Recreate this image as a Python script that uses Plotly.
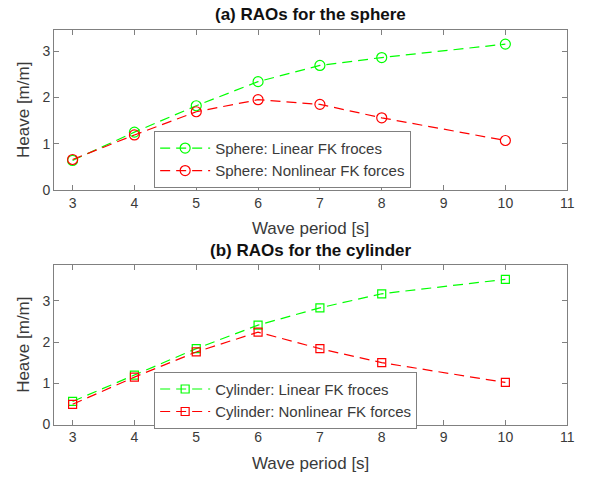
import plotly.graph_objects as go

periods = [3, 4, 5, 6, 7, 8, 10]
sphere_linear = [0.64, 1.25, 1.82, 2.34, 2.69, 2.86, 3.15]
sphere_nonlinear = [0.66, 1.19, 1.69, 1.95, 1.85, 1.56, 1.07]
cyl_linear = [0.56, 1.20, 1.84, 2.41, 2.83, 3.17, 3.52]
cyl_nonlinear = [0.49, 1.15, 1.76, 2.24, 1.84, 1.50, 1.02]
x_ticks = [3, 4, 5, 6, 7, 8, 9, 10, 11]
y_ticks = [0, 1, 2, 3]

GREEN = "rgb(0,255,0)"
RED = "rgb(255,0,0)"
DASH = "10px,6px"
FONT = "Liberation Sans, Arial, sans-serif"
TXT = "#3a3a3a"

fig = go.Figure()

def add(x, y, name, color, symbol, size, xa, ya, leg):
    fig.add_trace(go.Scatter(
        x=x, y=y, name=name, mode="lines+markers",
        line=dict(color=color, width=1.2, dash=DASH),
        marker=dict(symbol=symbol, size=size, color=color, line=dict(color=color, width=1.2)),
        xaxis=xa, yaxis=ya, legend=leg,
    ))

add(periods, sphere_linear, "Sphere: Linear FK froces", GREEN, "circle-open", 10, "x", "y", "legend")
add(periods, sphere_nonlinear, "Sphere: Nonlinear FK forces", RED, "circle-open", 10, "x", "y", "legend")
add(periods, cyl_linear, "Cylinder: Linear FK froces", GREEN, "square-open", 8, "x2", "y2", "legend2")
add(periods, cyl_nonlinear, "Cylinder: Nonlinear FK forces", RED, "square-open", 8, "x2", "y2", "legend2")

W, H = 591, 482
xdom = [54.7 / W, 574 / W]
ydom1 = [1 - 193.3 / H, 1 - 30 / H]
ydom2 = [1 - 431.7 / H, 1 - 269.3 / H]

axis_common = dict(
    showline=True, linecolor="#808080", linewidth=1, mirror="ticks",
    ticks="inside", ticklen=5, tickcolor="#808080", tickwidth=1,
    showgrid=False, zeroline=False,
    tickfont=dict(family=FONT, size=14, color=TXT),
)
title_font = dict(size=17, family=FONT, color=TXT)
legend_common = dict(
    xanchor="left", yanchor="top",
    bgcolor="white", bordercolor="#808080", borderwidth=1,
    font=dict(family=FONT, size=15, color=TXT),
    itemwidth=50, tracegroupgap=0,
)

ymax1 = 1.1 * max(sphere_linear)
ymax2 = 1.1 * max(cyl_linear)

fig.update_layout(
    width=W, height=H,
    margin=dict(l=0, r=0, t=0, b=0),
    paper_bgcolor="white", plot_bgcolor="white",
    font=dict(family=FONT, color=TXT),
    xaxis=dict(domain=xdom, range=[2.7, 11], tickvals=x_ticks, anchor="y",
               title=dict(text="Wave period [s]", font=title_font, standoff=12),
               **axis_common),
    yaxis=dict(domain=ydom1, range=[0, ymax1], tickvals=y_ticks, anchor="x",
               title=dict(text="Heave [m/m]", font=title_font, standoff=8),
               **axis_common),
    xaxis2=dict(domain=xdom, range=[2.7, 11], tickvals=x_ticks, anchor="y2",
                title=dict(text="Wave period [s]", font=title_font, standoff=12),
                **axis_common),
    yaxis2=dict(domain=ydom2, range=[0, ymax2], tickvals=y_ticks, anchor="x2",
                title=dict(text="Heave [m/m]", font=title_font, standoff=8),
                **axis_common),
    legend=dict(x=156 / W, y=1 - 133 / H, **legend_common),
    legend2=dict(x=156 / W, y=1 - 378 / H, **legend_common),
    showlegend=True,
    annotations=[
        dict(text="<b>(a) RAOs for the sphere</b>", x=(xdom[0] + xdom[1]) / 2, y=1 - 15 / H,
             xref="paper", yref="paper", showarrow=False, xanchor="center", yanchor="middle",
             font=dict(family=FONT, size=17, color="#111111")),
        dict(text="<b>(b) RAOs for the cylinder</b>", x=(xdom[0] + xdom[1]) / 2, y=1 - 255 / H,
             xref="paper", yref="paper", showarrow=False, xanchor="center", yanchor="middle",
             font=dict(family=FONT, size=17, color="#111111")),
    ],
)

fig.write_html("out.html")
